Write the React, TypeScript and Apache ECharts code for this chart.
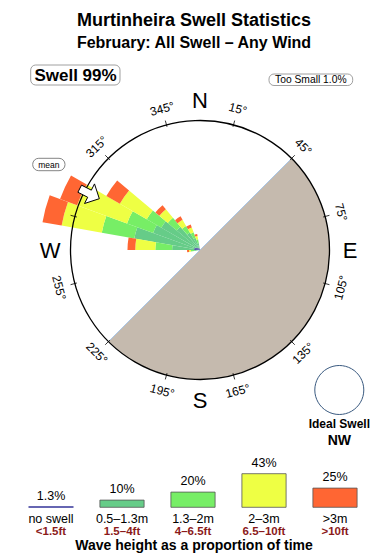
import React, { useEffect, useRef } from "react";
import * as echarts from "echarts";

// ---- Rose data (petal segment lengths, % of time per 10° sector) ----
const directions = [265, 275, 285, 295, 305, 315, 325, 335, 345];
const noSwell = [0.3, 0.9, 0.9, 0.8, 0.6, 0.5, 0.3, 0.3, 0.2];
const h05to13 = [0.6, 3.4, 9.4, 6.9, 6.3, 4.2, 2.8, 1.7, 0.9];
const h13to2 = [0.5, 2.6, 5.1, 4.3, 2.6, 1.8, 1.2, 0.9, 0.6];
const h2to3 = [0.3, 3.1, 6.3, 8.2, 4.8, 1.7, 1.1, 0.8, 0.5];
const hOver3 = [0.3, 1.2, 3.0, 2.8, 2.4, 0.8, 0.6, 0.5, 0.3];

// ---- Legend data ----
const legendNames = ["no swell", "0.5–1.3m", "1.3–2m", "2–3m", ">3m"];
const legendFeet = ["<1.5ft", "1.5–4ft", "4–6.5ft", "6.5–10ft", ">10ft"];
const legendPct = [1.3, 10, 20, 43, 25];
const colors = ["#333399", "#66cc88", "#77ee66", "#eeff44", "#ff6633"];

// ---- Compass labels ----
const degreeTicks = [15, 45, 75, 105, 135, 165, 195, 225, 255, 285, 315, 345];
const cardinalNames = ["N", "E", "S", "W"];
const cardinalBearings = [0, 90, 180, 270];
const meanDirection = 297;

const FONT = '"Liberation Sans", Arial, Helvetica, sans-serif';
const CX = 200;
const CY = 250;
const R = 129.5;

function pt(b: number, r: number): [number, number] {
  const a = (b * Math.PI) / 180;
  return [CX + r * Math.sin(a), CY - r * Math.cos(a)];
}

function buildOption() {
  const sectorCats = Array.from({ length: 36 }, (_, i) => String(i * 10 + 5));
  const full = (arr: number[]) =>
    sectorCats.map((c) => {
      const idx = directions.indexOf(Number(c));
      return idx >= 0 ? arr[idx] : 0;
    });
  const roseSeries = [noSwell, h05to13, h13to2, h2to3, hOver3].map((arr, i) => ({
    type: "bar",
    coordinateSystem: "polar",
    stack: "rose",
    data: full(arr),
    barCategoryGap: "0%",
    itemStyle: { color: colors[i] },
    silent: true,
    z: 2,
  }));

  const g: any[] = [];
  // land
  g.push({
    type: "sector",
    z: 0,
    shape: { cx: CX, cy: CY, r: R, r0: 0, startAngle: -Math.PI / 4, endAngle: (3 * Math.PI) / 4, clockwise: true },
    style: { fill: "#c5baae" },
  });
  const [ax, ay] = pt(45, R);
  const [bx, by] = pt(225, R);
  g.push({ type: "line", z: 1, shape: { x1: ax, y1: ay, x2: bx, y2: by }, style: { stroke: "#a9c6e6", lineWidth: 1 } });
  // degree labels
  degreeTicks.forEach((b) => {
    let rot = b <= 90 || b >= 270 ? b : b - 180;
    if (rot > 180) rot -= 360;
    const [x, y] = pt(b, 146);
    g.push({
      type: "text",
      z: 1,
      x,
      y,
      rotation: (-rot * Math.PI) / 180,
      style: { text: `${b}°`, fontSize: 12, fontFamily: FONT, fill: "#000", align: "center", verticalAlign: "middle" },
    });
    const [x1, y1] = pt(b, R - 2);
    const [x2, y2] = pt(b, R + 4.5);
    g.push({ type: "line", z: 100, shape: { x1, y1, x2, y2 }, style: { stroke: "#000", lineWidth: 0.8 } });
  });
  cardinalNames.forEach((n, i) => {
    const [x, y] = pt(cardinalBearings[i], 150);
    g.push({
      type: "text",
      z: 1,
      x,
      y,
      style: { text: n, fontSize: 22, fontFamily: FONT, fill: "#000", align: "center", verticalAlign: "middle" },
    });
  });
  // compass circle
  g.push({ type: "circle", z: 100, shape: { cx: CX, cy: CY, r: R }, style: { fill: "none", stroke: "#000", lineWidth: 1.3 } });
  // mean arrow
  const b = (meanDirection * Math.PI) / 180;
  const u = [Math.sin(b), -Math.cos(b)];
  const v = [Math.cos(b), Math.sin(b)];
  const arrowLocal = [
    [113, 0],
    [124, 11],
    [124, 4],
    [135, 4],
    [135, -4],
    [124, -4],
    [124, -11],
  ];
  g.push({
    type: "polygon",
    z: 101,
    shape: { points: arrowLocal.map(([a, c]) => [CX + a * u[0] + c * v[0], CY + a * u[1] + c * v[1]]) },
    style: { fill: "#fff", stroke: "#000", lineWidth: 1 },
  });
  // mean box
  g.push({ type: "rect", z: 101, shape: { x: 32.7, y: 158.3, width: 32.3, height: 12.4, r: 6 }, style: { fill: "#fff", stroke: "#666", lineWidth: 0.8 } });
  g.push({ type: "text", z: 102, x: 48.9, y: 164.5, style: { text: "mean", fontSize: 8.5, fontFamily: FONT, fill: "#000", align: "center", verticalAlign: "middle" } });
  // titles
  g.push({ type: "text", z: 5, x: 194, y: 19.7, style: { text: "Murtinheira Swell Statistics", fontSize: 18, fontWeight: "bold", fontFamily: FONT, fill: "#000", align: "center", verticalAlign: "middle" } });
  g.push({ type: "text", z: 5, x: 194, y: 42.2, style: { text: "February: All Swell – Any Wind", fontSize: 16, fontWeight: "bold", fontFamily: FONT, fill: "#000", align: "center", verticalAlign: "middle" } });
  // swell box
  g.push({ type: "rect", z: 5, shape: { x: 30.7, y: 65, width: 89.3, height: 20, r: 5 }, style: { fill: "#fff", stroke: "#888", lineWidth: 0.8 } });
  g.push({ type: "text", z: 6, x: 75.5, y: 75.3, style: { text: "Swell 99%", fontSize: 17, fontWeight: "bold", fontFamily: FONT, fill: "#000", align: "center", verticalAlign: "middle" } });
  // too small box
  g.push({ type: "rect", z: 5, shape: { x: 269, y: 74, width: 83.7, height: 11.5, r: 5 }, style: { fill: "#fff", stroke: "#888", lineWidth: 0.8 } });
  g.push({ type: "text", z: 6, x: 310.8, y: 79.8, style: { text: "Too Small 1.0%", fontSize: 10.3, fontFamily: FONT, fill: "#000", align: "center", verticalAlign: "middle" } });
  // ideal swell
  g.push({ type: "circle", z: 5, shape: { cx: 339.3, cy: 390, r: 24.5 }, style: { fill: "#fff", stroke: "#3a5a80", lineWidth: 1 } });
  g.push({ type: "text", z: 5, x: 339.3, y: 424, style: { text: "Ideal Swell", fontSize: 12, fontWeight: "bold", fontFamily: FONT, fill: "#000", align: "center", verticalAlign: "middle" } });
  g.push({ type: "text", z: 5, x: 339.3, y: 440, style: { text: "NW", fontSize: 14, fontWeight: "bold", fontFamily: FONT, fill: "#000", align: "center", verticalAlign: "middle" } });
  // legend caption
  g.push({ type: "text", z: 5, x: 194, y: 545, style: { text: "Wave height as a proportion of time", fontSize: 14, fontWeight: "bold", fontFamily: FONT, fill: "#000", align: "center", verticalAlign: "middle" } });

  return {
    animation: false,
    backgroundColor: "#fff",
    polar: { center: [CX, CY], radius: R * 1.5 },
    angleAxis: { type: "category", data: sectorCats, startAngle: 90, clockwise: true, show: false },
    radiusAxis: { type: "value", min: 0, max: 30, show: false },
    grid: { left: 15.5, width: 355, top: 467.7, height: 40 },
    xAxis: {
      type: "category",
      data: legendNames,
      axisLine: { show: false },
      axisTick: { show: false },
      axisLabel: {
        interval: 0,
        margin: 5,
        formatter: (val: string, idx: number) => `{a|${val}}\n{b|${legendFeet[idx]}}`,
        rich: {
          a: { fontSize: 12.5, color: "#000", lineHeight: 12, fontFamily: FONT },
          b: { fontSize: 11.5, color: "#8b1a1a", fontWeight: "bold", lineHeight: 12, fontFamily: FONT },
        },
      },
    },
    yAxis: { type: "value", min: 0, max: 50, show: false },
    series: [
      ...roseSeries,
      {
        type: "bar",
        xAxisIndex: 0,
        yAxisIndex: 0,
        barWidth: 45,
        barMinHeight: 1.5,
        silent: true,
        data: legendPct.map((p, i) => ({
          value: p,
          itemStyle: { color: colors[i], borderColor: i === 0 ? colors[0] : "#555", borderWidth: i === 0 ? 0 : 0.8 },
        })),
        label: {
          show: true,
          position: "top",
          distance: 4,
          formatter: (p: any) => `${p.value}%`,
          fontSize: 12.5,
          color: "#000",
          fontFamily: FONT,
        },
      },
    ],
    graphic: g,
  };
}

export default function App() {
  const ref = useRef<HTMLDivElement>(null);
  useEffect(() => {
    document.body.style.margin = "0";
    if (!ref.current) return;
    const chart = echarts.init(ref.current, undefined, { renderer: "svg" });
    chart.setOption(buildOption() as any);
    return () => chart.dispose();
  }, []);
  return <div ref={ref} style={{ width: 390, height: 560 }} />;
}
